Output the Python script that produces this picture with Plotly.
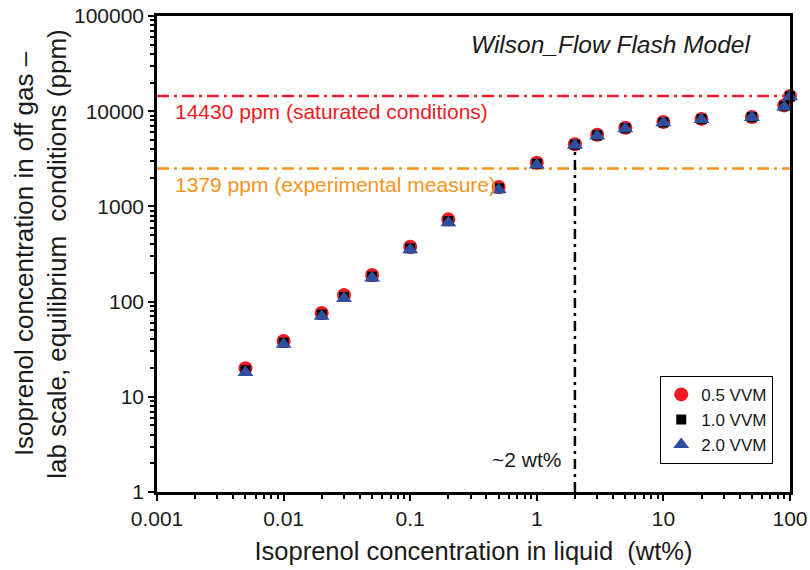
import math
import plotly.graph_objects as go

# ---- data ----
liquid_wt = [0.005, 0.01, 0.02, 0.03, 0.05, 0.1, 0.2, 0.5, 1, 2, 3, 5, 10, 20, 50, 90, 100]
gas_05vvm = [20, 38.5, 76, 117, 190, 377, 731, 1600, 2880, 4500, 5650, 6700, 7700, 8300, 8700, 11500, 14430]
gas_10vvm = [19, 37, 73, 112, 183, 362, 700, 1550, 2800, 4450, 5570, 6620, 7620, 8250, 8650, 11300, 14300]
gas_20vvm = [18, 35.7, 70, 108, 177, 350, 674, 1500, 2720, 4400, 5500, 6550, 7550, 8200, 8600, 11100, 14200]
series_names = ["0.5 VVM", "1.0 VVM", "2.0 VVM"]

saturated_ppm = 14430
experimental_line = 2500
cutoff_wt = 2
cutoff_ppm = 4400

x_tick_vals = [0.001, 0.01, 0.1, 1, 10, 100]
x_tick_text = ["0.001", "0.01", "0.1", "1", "10", "100"]
y_tick_vals = [1, 10, 100, 1000, 10000, 100000]
y_tick_text = ["1", "10", "100", "1000", "10000", "100000"]

FONT = "Liberation Sans, Arial, sans-serif"
RED = "#ED1C24"
ORANGE = "#F7941D"
BLUE = "#2E4E9E"
TXT = "#1a1a1a"

fig = go.Figure()

# horizontal reference lines
fig.add_trace(go.Scatter(x=[0.001, 100], y=[saturated_ppm, saturated_ppm], mode="lines",
                         line=dict(color=RED, width=2.5, dash="12px,5px,3px,5px"),
                         showlegend=False, hoverinfo="skip"))
fig.add_trace(go.Scatter(x=[0.001, 100], y=[experimental_line, experimental_line], mode="lines",
                         line=dict(color=ORANGE, width=2.5, dash="12px,5px,3px,5px"),
                         showlegend=False, hoverinfo="skip"))
# vertical line at ~2 wt%
fig.add_trace(go.Scatter(x=[cutoff_wt, cutoff_wt], y=[1, cutoff_ppm], mode="lines",
                         line=dict(color="black", width=2.5, dash="10px,5px,3px,5px"),
                         showlegend=False, hoverinfo="skip"))

fig.add_trace(go.Scatter(x=liquid_wt, y=gas_05vvm, mode="markers", name=series_names[0],
                         marker=dict(symbol="circle", size=14, color=RED),
                         cliponaxis=False))
fig.add_trace(go.Scatter(x=liquid_wt, y=gas_10vvm, mode="markers", name=series_names[1],
                         marker=dict(symbol="square", size=10, color="black"),
                         cliponaxis=False))
fig.add_trace(go.Scatter(x=liquid_wt, y=gas_20vvm, mode="markers", name=series_names[2],
                         marker=dict(symbol="triangle-up", size=14, color=BLUE),
                         cliponaxis=False))

def minor_vals(lo, hi):
    vals = []
    for k in range(lo, hi):
        for d in range(2, 10):
            vals.append(d * 10 ** k)
    return vals

axis_common = dict(
    type="log", showline=True, linecolor="black", linewidth=2.5, mirror=True,
    ticks="outside", ticklen=6, tickwidth=2, tickcolor="black",
    showgrid=False, zeroline=False, automargin=False, ticklabeloverflow="allow",
    tickfont=dict(family=FONT, size=21, color=TXT),
)

fig.update_xaxes(**axis_common, range=[-3, 2], tickvals=x_tick_vals, ticktext=x_tick_text,
                 minor=dict(tickvals=minor_vals(-3, 2), ticks="outside", ticklen=4,
                            tickwidth=1.5, tickcolor="black", showgrid=False),
                 title=dict(text="Isoprenol concentration in liquid  (wt%)",
                            font=dict(family=FONT, size=25.5, color=TXT), standoff=14))
fig.update_yaxes(**axis_common, range=[0, 5], tickvals=y_tick_vals, ticktext=y_tick_text,
                 minor=dict(tickvals=minor_vals(0, 5), ticks="outside", ticklen=4,
                            tickwidth=1.5, tickcolor="black", showgrid=False),
                 title=dict(text="Isoprenol concentration in off gas –<br>lab scale, equilibrium  conditions (ppm)",
                            font=dict(family=FONT, size=26, color=TXT), standoff=0))

fig.add_annotation(x=0.025, y=math.log10(saturated_ppm), xref="paper", yref="y",
                   text="14430 ppm (saturated conditions)", showarrow=False,
                   xanchor="left", yanchor="top", yshift=-2,
                   font=dict(family=FONT, size=21, color=RED))
fig.add_annotation(x=0.025, y=math.log10(experimental_line), xref="paper", yref="y",
                   text="1379 ppm (experimental measure)", showarrow=False,
                   xanchor="left", yanchor="top", yshift=-2,
                   font=dict(family=FONT, size=21, color=ORANGE))
fig.add_annotation(x=0.94, y=0.941, xref="paper", yref="paper",
                   text="<i>Wilson_Flow Flash Model</i>", showarrow=False,
                   xanchor="right", yanchor="middle",
                   font=dict(family=FONT, size=24.5, color=TXT))
fig.add_annotation(x=math.log10(cutoff_wt), y=math.log10(2.2), xref="x", yref="y",
                   text="~2 wt%", showarrow=False, xanchor="right", xshift=-12,
                   font=dict(family=FONT, size=21, color=TXT))

fig.update_layout(
    width=810, height=570,
    margin=dict(l=157, r=20, t=16, b=78),
    paper_bgcolor="white", plot_bgcolor="white",
    font=dict(family=FONT, color=TXT),
    legend=dict(x=0.795, y=0.244, xanchor="left", yanchor="top",
                bordercolor="black", borderwidth=1, bgcolor="white",
                font=dict(family=FONT, size=17, color=TXT),
                itemwidth=30, tracegroupgap=0),
)

fig.write_html("out.html", config={"displayModeBar": False},
               post_script="document.body.style.margin='0';")
